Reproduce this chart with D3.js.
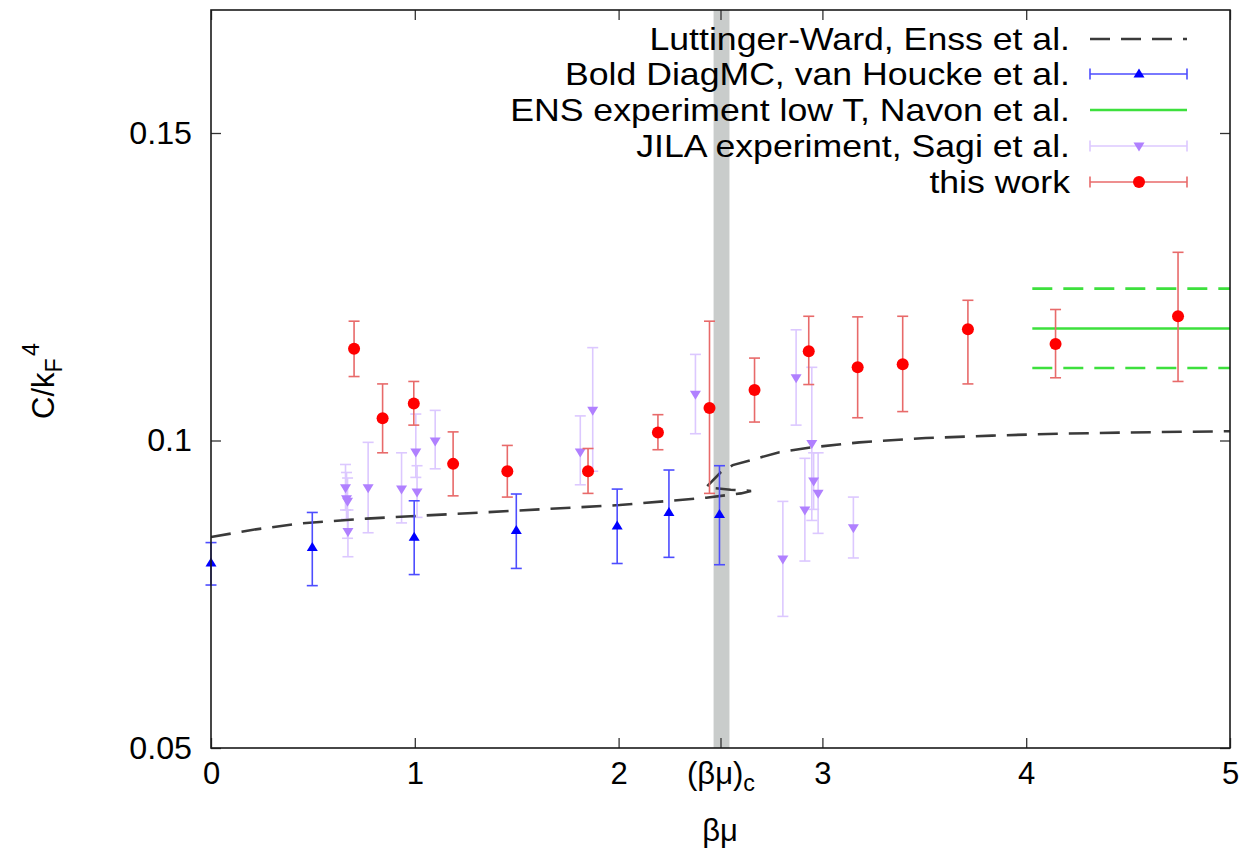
<!DOCTYPE html>
<html>
<head>
<meta charset="utf-8">
<script src="https://cdn.jsdelivr.net/npm/d3@7/dist/d3.min.js"></script>
<style>
  html, body { margin: 0; padding: 0; background: #fff; }
  svg { display: block; }
  text { font-family: "Liberation Sans", Arial, Helvetica, sans-serif; fill: #000; }
</style>
</head>
<body>
<svg id="chart" width="1247" height="861"></svg>
<script>
// ---------------- data ----------------
const xTickValues = [0, 1, 2, 2.5, 3, 4, 5];
const xTickLabels = ["0", "1", "2", "(βμ)c", "3", "4", "5"];
const yTickValues = [0.05, 0.1, 0.15];
const yTickLabels = ["0.05", "0.1", "0.15"];

const legendLabels = [
  "Luttinger-Ward, Enss et al.",
  "Bold DiagMC, van Houcke et al.",
  "ENS experiment low T, Navon et al.",
  "JILA experiment, Sagi et al.",
  "this work"
];

// critical band
const bandBeta = [2.466, 2.544];

// Luttinger-Ward curve (with back-fold near the transition)
const lwBeta = [0, 0.207, 0.436, 0.763, 1.613, 2.005, 2.430, 2.600, 2.650, 2.550, 2.430, 2.500, 2.560, 2.789, 2.951, 3.181, 3.507, 3.833, 4.162, 4.489, 4.980, 5.0];
const lwC    = [0.0843, 0.0855, 0.0865, 0.0873, 0.0888, 0.0895, 0.0907, 0.0914, 0.0918, 0.0920, 0.0924, 0.0948, 0.0960, 0.0981, 0.0989, 0.0997, 0.1004, 0.1008, 0.1011, 0.1013, 0.1015, 0.1015];

// Bold DiagMC
const dmcBeta = [0, 0.497, 0.997, 1.498, 1.993, 2.247, 2.495];
const dmcC    = [0.0801, 0.0826, 0.0843, 0.0854, 0.0861, 0.0883, 0.0880];
const dmcLo   = [0.0765, 0.0764, 0.0782, 0.0792, 0.0800, 0.0810, 0.0798];
const dmcHi   = [0.0834, 0.0883, 0.0902, 0.0913, 0.0921, 0.0952, 0.0959];

// ENS experiment (band)
const ensBeta = [4.03, 5.0];
const ensC  = 0.1182;
const ensLo = 0.1118;
const ensHi = 0.1247;

// JILA experiment
const jilaBeta = [0.660, 0.665, 0.670, 0.672, 0.771, 0.935, 1.005, 1.011, 1.100, 1.812, 1.873, 2.377, 2.871, 2.948, 2.957, 2.979, 2.914, 2.806, 3.152];
const jilaC    = [0.0923, 0.0905, 0.0901, 0.0852, 0.0923, 0.0921, 0.0981, 0.0916, 0.0999, 0.0981, 0.1049, 0.1075, 0.1102, 0.0995, 0.0934, 0.0914, 0.0887, 0.0807, 0.0858];
const jilaLo   = [0.0887, 0.0872, 0.0841, 0.0811, 0.0850, 0.0866, 0.0940, 0.0875, 0.0954, 0.0928, 0.0950, 0.1011, 0.1025, 0.0870, 0.0888, 0.0849, 0.0804, 0.0714, 0.0809];
const jilaHi   = [0.0961, 0.0948, 0.0939, 0.0887, 0.0997, 0.0980, 0.1043, 0.0959, 0.1049, 0.1040, 0.1151, 0.1140, 0.1180, 0.1119, 0.0980, 0.0980, 0.0971, 0.0901, 0.0908];

// this work
const twBeta = [0.702, 0.842, 0.995, 1.188, 1.454, 1.850, 2.193, 2.446, 2.667, 2.933, 3.173, 3.394, 3.714, 4.144, 4.745];
const twC    = [0.1149, 0.1036, 0.1060, 0.0962, 0.0950, 0.0950, 0.1013, 0.1053, 0.1082, 0.1145, 0.1119, 0.1124, 0.1181, 0.1157, 0.1202];
const twLo   = [0.1104, 0.0980, 0.1025, 0.0910, 0.0908, 0.0914, 0.0985, 0.0914, 0.1030, 0.1091, 0.1037, 0.1047, 0.1092, 0.1102, 0.1096];
const twHi   = [0.1194, 0.1092, 0.1096, 0.1014, 0.0992, 0.0987, 0.1042, 0.1194, 0.1134, 0.1202, 0.1201, 0.1202, 0.1228, 0.1213, 0.1306];

// ---------------- layout ----------------
const L = 211, R = 1230, T = 10, B = 748;
const FONT = 31;
const STRETCH = 1.15;
const col = {
  lw: "#3a3a3a",
  dmc: "#0000ff", dmcErr: "#4d4dff",
  ens: "#3de03d",
  jila: "#b080ff", jilaErr: "#dcc8ff",
  tw: "#ff0000", twErr: "#e86a6a",
  band: "#c9cccb", frame: "#1a1a1a"
};

const svg = d3.select("#chart");
const x = d3.scaleLinear().domain([0, 5]).range([L, R]);
const y = d3.scaleLinear().domain([0.05, 0.17]).range([B, T]);

svg.append("defs").append("clipPath").attr("id", "clip")
  .append("rect").attr("x", L).attr("y", T).attr("width", R - L).attr("height", B - T);

const plot = svg.append("g").attr("clip-path", "url(#clip)");

// critical band
plot.append("rect")
  .attr("x", x(bandBeta[0])).attr("y", T)
  .attr("width", x(bandBeta[1]) - x(bandBeta[0])).attr("height", B - T)
  .attr("fill", col.band);

// ENS band lines
const ensG = plot.append("g");
[[ensC, null], [ensLo, "20,11"], [ensHi, "20,11"]].forEach(([v, dash]) => {
  ensG.append("line")
    .attr("x1", x(ensBeta[0])).attr("x2", x(ensBeta[1]))
    .attr("y1", y(v)).attr("y2", y(v))
    .attr("stroke", col.ens).attr("stroke-width", 2.6)
    .attr("stroke-dasharray", dash);
});

const CAP = 5.5;
function errorBars(g, bx, lo, hi, color) {
  const data = bx.map((b, i) => ({ b, lo: lo[i], hi: hi[i] }));
  const eg = g.append("g").attr("stroke", color).attr("stroke-width", 1.6).attr("fill", "none");
  eg.selectAll("line.v").data(data).join("line").attr("class", "v")
    .attr("x1", d => x(d.b)).attr("x2", d => x(d.b))
    .attr("y1", d => y(d.lo)).attr("y2", d => y(d.hi));
  eg.selectAll("line.lo").data(data).join("line").attr("class", "lo")
    .attr("x1", d => x(d.b) - CAP).attr("x2", d => x(d.b) + CAP)
    .attr("y1", d => y(d.lo)).attr("y2", d => y(d.lo));
  eg.selectAll("line.hi").data(data).join("line").attr("class", "hi")
    .attr("x1", d => x(d.b) - CAP).attr("x2", d => x(d.b) + CAP)
    .attr("y1", d => y(d.hi)).attr("y2", d => y(d.hi));
}

function triPath(up) {
  const w = 5.5, h = 9;
  return up ? `M0,${-h * 0.6}L${w},${h * 0.4}L${-w},${h * 0.4}Z`
            : `M0,${h * 0.6}L${w},${-h * 0.4}L${-w},${-h * 0.4}Z`;
}

// JILA
const jg = plot.append("g");
errorBars(jg, jilaBeta, jilaLo, jilaHi, col.jilaErr);
jg.selectAll("path.m").data(jilaBeta.map((b, i) => ({ b, c: jilaC[i] }))).join("path")
  .attr("class", "m")
  .attr("transform", d => `translate(${x(d.b)},${y(d.c)})`)
  .attr("d", triPath(false)).attr("fill", col.jila);

// Bold DiagMC
const dg = svg.append("g");
errorBars(dg, dmcBeta, dmcLo, dmcHi, col.dmcErr);
dg.selectAll("path.m").data(dmcBeta.map((b, i) => ({ b, c: dmcC[i] }))).join("path")
  .attr("class", "m")
  .attr("transform", d => `translate(${x(d.b)},${y(d.c)})`)
  .attr("d", triPath(true)).attr("fill", col.dmc);

// Luttinger-Ward curve
const lwLine = d3.line().x(d => x(d.b)).y(d => y(d.c));
plot.append("path")
  .datum(lwBeta.map((b, i) => ({ b, c: lwC[i] })))
  .attr("d", lwLine)
  .attr("fill", "none").attr("stroke", col.lw).attr("stroke-width", 2.6)
  .attr("stroke-dasharray", "20,11");

// this work
const tg = plot.append("g");
errorBars(tg, twBeta, twLo, twHi, col.twErr);
tg.selectAll("circle").data(twBeta.map((b, i) => ({ b, c: twC[i] }))).join("circle")
  .attr("cx", d => x(d.b)).attr("cy", d => y(d.c)).attr("r", 6)
  .attr("fill", col.tw);

// ---------------- axes ----------------
const TICK = 10;
const axG = svg.append("g");

const xAxis = axG.append("g").attr("transform", `translate(0,${B})`)
  .call(d3.axisBottom(x).tickValues(xTickValues)
    .tickFormat((d, i) => xTickLabels[i]).tickSize(-TICK).tickPadding(14));
const yAxis = axG.append("g").attr("transform", `translate(${L},0)`)
  .call(d3.axisLeft(y).tickValues(yTickValues)
    .tickFormat((d, i) => yTickLabels[i]).tickSize(-TICK).tickPadding(19));
const xTop = axG.append("g").attr("transform", `translate(0,${T})`)
  .call(d3.axisTop(x).tickValues(xTickValues).tickFormat("").tickSize(-TICK));
const yRight = axG.append("g").attr("transform", `translate(${R},0)`)
  .call(d3.axisRight(y).tickValues(yTickValues).tickFormat("").tickSize(-TICK));

[xAxis, yAxis, xTop, yRight].forEach(a => {
  a.select(".domain").remove();
  a.selectAll(".tick line").attr("stroke", "#333").attr("stroke-width", 1.3);
  a.selectAll("text").attr("font-size", FONT).attr("font-family", "Liberation Sans, Arial, sans-serif").attr("fill", "#000");
});
// slightly wider y tick labels
yAxis.selectAll(".tick text").attr("font-size", FONT * 1.04);

xAxis.selectAll(".tick text").each(function (d, i) {
  if (xTickLabels[i] === "(βμ)c") {
    const t = d3.select(this);
    t.text(null);
    t.append("tspan").text("(βμ)");
    t.append("tspan").attr("font-size", FONT * 0.75).attr("dy", "0.3em").text("c");
  }
});

// frame
svg.append("rect").attr("x", L).attr("y", T).attr("width", R - L).attr("height", B - T)
  .attr("fill", "none").attr("stroke", col.frame).attr("stroke-width", 1.6);

// axis titles
svg.append("text").attr("x", 720).attr("y", 841).attr("text-anchor", "middle")
  .attr("font-size", FONT).text("βμ");

const yt = svg.append("text").attr("transform", "translate(54,381) rotate(-90)")
  .attr("text-anchor", "middle").attr("font-size", FONT);
yt.append("tspan").text("C/k");
yt.append("tspan").attr("font-size", FONT * 0.75).attr("dy", "0.35em").text("F");
yt.append("tspan").attr("font-size", FONT * 0.75).attr("dy", "-1.0em").attr("dx", "0.1em").text("4");

// ---------------- legend ----------------
const legRows = [39, 74, 110, 146, 182];
const lgX0 = 1090, lgX1 = 1187, lgXm = 1139, lgText = 1070;
const lg = svg.append("g");
legendLabels.forEach((lab, i) => {
  lg.append("g").attr("transform", `translate(${lgText},${legRows[i]}) scale(${STRETCH},1)`)
    .append("text").attr("x", 0).attr("y", 0).attr("dy", "0.36em")
    .attr("text-anchor", "end").attr("font-size", FONT).text(lab);
});
lg.append("line").attr("x1", lgX0).attr("x2", lgX1).attr("y1", legRows[0]).attr("y2", legRows[0])
  .attr("stroke", col.lw).attr("stroke-width", 2.6).attr("stroke-dasharray", "20,11");
function legErr(row, color, errColor, kind) {
  const yy = legRows[row];
  const g = lg.append("g");
  g.append("line").attr("x1", lgX0).attr("x2", lgX1).attr("y1", yy).attr("y2", yy)
    .attr("stroke", errColor).attr("stroke-width", 1.6);
  [lgX0, lgX1].forEach(xx => g.append("line").attr("x1", xx).attr("x2", xx)
    .attr("y1", yy - CAP).attr("y2", yy + CAP).attr("stroke", errColor).attr("stroke-width", 1.6));
  if (kind === "circle") {
    g.append("circle").attr("cx", lgXm).attr("cy", yy).attr("r", 6).attr("fill", color);
  } else {
    g.append("path").attr("transform", `translate(${lgXm},${yy})`)
      .attr("d", triPath(kind === "up")).attr("fill", color);
  }
}
legErr(1, col.dmc, col.dmcErr, "up");
lg.append("line").attr("x1", lgX0).attr("x2", lgX1).attr("y1", legRows[2]).attr("y2", legRows[2])
  .attr("stroke", col.ens).attr("stroke-width", 2.6);
legErr(3, col.jila, col.jilaErr, "down");
legErr(4, col.tw, col.twErr, "circle");
</script>
</body>
</html>
